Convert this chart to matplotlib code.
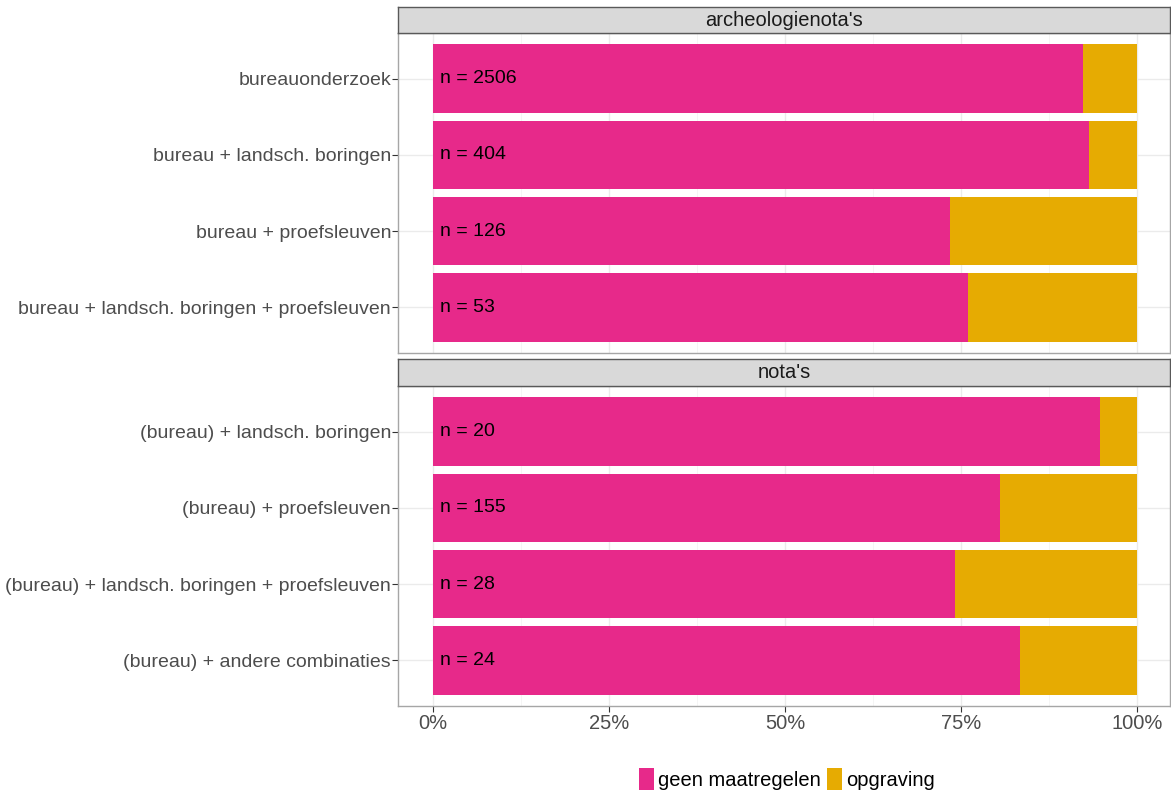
import numpy as np
import matplotlib.pyplot as plt
from matplotlib.patches import Patch

plt.rcParams['font.family'] = ['Liberation Sans', 'DejaVu Sans']

# data
panels = ["archeologienota's", "nota's"]
labels_1 = ["bureauonderzoek", "bureau + landsch. boringen", "bureau + proefsleuven",
            "bureau + landsch. boringen + proefsleuven"]
labels_2 = ["(bureau) + landsch. boringen", "(bureau) + proefsleuven",
            "(bureau) + landsch. boringen + proefsleuven", "(bureau) + andere combinaties"]
geen_1 = [0.923, 0.932, 0.734, 0.760]
geen_2 = [0.947, 0.805, 0.741, 0.834]
n_1 = [2506, 404, 126, 53]
n_2 = [20, 155, 28, 24]

pink = '#E7298A'
orange = '#E6AB02'
W, H = 1171, 794

fig = plt.figure(figsize=(W / 100, H / 100), dpi=100)

def px(x0, y0, x1, y1):
    return [x0 / W, 1 - y1 / H, (x1 - x0) / W, (y1 - y0) / H]

layout = [(7, 33, 353), (359, 386, 706)]
data = [(labels_1, geen_1, n_1), (labels_2, geen_2, n_2)]

for i, (title, (s0, p0, p1), (labs, geen, ns)) in enumerate(zip(panels, layout, data)):
    ax = fig.add_axes(px(398, p0, 1170, p1))
    y = np.arange(1, len(labs) + 1)
    opg = 1 - np.array(geen)
    ax.barh(y, geen, height=0.9, color=pink, zorder=2)
    ax.barh(y, opg, left=geen, height=0.9, color=orange, zorder=2)
    for yy, n in zip(y, ns):
        ax.text(0.01, yy, f"n = {n}", va='center', ha='left', fontsize=14, color='black', zorder=3)
    ax.set_xlim(-0.0497, 1.047)
    ax.set_ylim(4.6, 0.4)
    ax.set_yticks(y)
    ax.set_yticklabels(labs, fontsize=14, color='#4D4D4D')
    ax.set_xticks([0, 0.25, 0.5, 0.75, 1])
    ax.set_xticks([0.125, 0.375, 0.625, 0.875], minor=True)
    ax.grid(True, which='major', color='#EBEBEB', lw=1.0, zorder=0)
    ax.grid(True, which='minor', axis='x', color='#F4F4F4', lw=0.6, zorder=0)
    ax.tick_params(axis='y', length=4, color='#333333', pad=1)
    ax.tick_params(axis='x', which='minor', length=0)
    if i == 0:
        ax.tick_params(axis='x', which='major', length=0, labelbottom=False)
    else:
        ax.set_xticklabels(['0%', '25%', '50%', '75%', '100%'], fontsize=14.5, color='#4D4D4D')
        ax.tick_params(axis='x', which='major', length=4, color='#333333', pad=2)
    for sp in ax.spines.values():
        sp.set_color('#A6A6A6')
        sp.set_linewidth(1.0)

    sax = fig.add_axes(px(398, s0, 1170, p0))
    sax.set_facecolor('#D9D9D9')
    sax.set_xticks([])
    sax.set_yticks([])
    for sp in sax.spines.values():
        sp.set_color('#595959')
        sp.set_linewidth(1.0)
    sax.text(0.5, 0.5, title, transform=sax.transAxes, ha='center', va='center',
             fontsize=14.5, color='#1A1A1A')

handles = [Patch(facecolor=pink, edgecolor='none', label='geen maatregelen'),
           Patch(facecolor=orange, edgecolor='none', label='opgraving')]
fig.legend(handles=handles, loc='center', bbox_to_anchor=(787 / W, 1 - 779 / H), ncol=2,
           frameon=False, fontsize=14.5, handlelength=0.75, handleheight=1.3,
           handletextpad=0.2, columnspacing=0.3, borderpad=0)

fig.savefig('out.png', dpi=100)
